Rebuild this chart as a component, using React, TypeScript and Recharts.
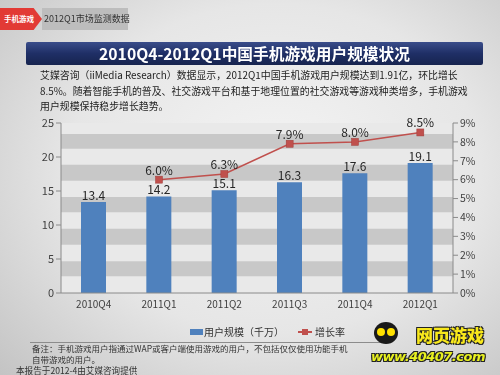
import React from "react";
import {
  ComposedChart,
  Bar,
  Line,
  XAxis,
  YAxis,
  Legend,
  LabelList,
  ReferenceArea,
} from "recharts";

const categories = ["2010Q4", "2011Q1", "2011Q2", "2011Q3", "2011Q4", "2012Q1"];
const userScale = [13.4, 14.2, 15.1, 16.3, 17.6, 19.1];
const growthRate: (number | null)[] = [null, 6.0, 6.3, 7.9, 8.0, 8.5];
const leftTicks = [0, 5, 10, 15, 20, 25];
const rightTicks = [0, 1, 2, 3, 4, 5, 6, 7, 8, 9];

const bands: [number, number][] = [
  [2.45, 4.66],
  [7.1, 9.46],
  [11.86, 14.1],
  [16.5, 18.87],
  [21.2, 23.4],
];

const data = categories.map((c, i) => ({
  name: c,
  scale: userScale[i],
  rate: growthRate[i],
}));

const FONT = '"Noto Sans CJK SC", "Noto Sans", sans-serif';

const SquareDot = (props: any) => {
  const { cx, cy } = props;
  if (cx == null || cy == null || props.value == null) return null;
  return <rect x={cx - 3.5} y={cy - 3.5} width={7} height={7} fill="#c0504d" stroke="#a03c3a" strokeWidth={0.5} />;
};

const LegendContent = () => (
  <div style={{ display: "flex", alignItems: "center", fontFamily: FONT, fontSize: 10, lineHeight: "12px", color: "#333", whiteSpace: "nowrap" }}>
    <span style={{ display: "inline-block", width: 13, height: 6, background: "#4f81bd", marginRight: 1 }} />
    <span>用户规模（千万）</span>
    <span style={{ display: "inline-block", position: "relative", width: 14, height: 8, marginLeft: 14, marginRight: 3 }}>
      <span style={{ position: "absolute", left: 0, top: 3, width: 14, height: 2, background: "#c0504d" }} />
      <span style={{ position: "absolute", left: 4, top: 1, width: 6, height: 6, background: "#c0504d" }} />
    </span>
    <span>增长率</span>
  </div>
);

export default function App() {
  return (
    <div
      style={{
        position: "fixed",
        left: 0,
        top: 0,
        width: 500,
        height: 375,
        overflow: "hidden",
        fontFamily: FONT,
        background:
          "radial-gradient(ellipse 75% 80% at 55% 45%, #f4f4f4 0%, #e6e6e6 55%, #c4c4c4 100%)",
      }}
    >
      {/* header tag */}
      <div
        style={{
          position: "absolute",
          left: 0,
          top: 8,
          width: 42,
          height: 22,
          background: "#e23a35",
          clipPath: "polygon(0 0, 80% 0, 100% 50%, 80% 100%, 0 100%)",
          color: "#fff",
          fontSize: 7.5,
          fontWeight: 700,
          lineHeight: "22px",
          paddingLeft: 4,
          boxSizing: "border-box",
          whiteSpace: "nowrap",
        }}
      >
        手机游戏
      </div>
      <div
        style={{
          position: "absolute",
          left: 42,
          top: 8,
          width: 86,
          height: 22,
          background: "#bdbdbd",
          color: "#333",
          fontSize: 9,
          lineHeight: "22px",
          paddingLeft: 2,
          boxSizing: "border-box",
          whiteSpace: "nowrap",
        }}
      >
        2012Q1市场监测数据
      </div>

      {/* title bar */}
      <div
        style={{
          position: "absolute",
          left: 26,
          top: 42,
          width: 457,
          height: 23,
          background: "linear-gradient(180deg, #3a4d8a 0%, #1f2f66 50%, #17244f 100%)",
          borderRadius: 2,
          color: "#fff",
          fontSize: 15.7,
          fontWeight: 700,
          lineHeight: "23px",
          textAlign: "center",
          whiteSpace: "nowrap",
        }}
      >
        2010Q4-2012Q1中国手机游戏用户规模状况
      </div>

      {/* paragraph */}
      <div
        style={{
          position: "absolute",
          left: 40,
          top: 68,
          width: 440,
          fontSize: 9.9,
          lineHeight: "15.5px",
          color: "#222",
          whiteSpace: "nowrap",
        }}
      >
        <div>艾媒咨询（iiMedia Research）数据显示，2012Q1中国手机游戏用户规模达到1.91亿，环比增长</div>
        <div>8.5%。随着智能手机的普及、社交游戏平台和基于地理位置的社交游戏等游戏种类增多，手机游戏</div>
        <div>用户规模保持稳步增长趋势。</div>
      </div>

      <div style={{ position: "absolute", left: 0, top: 0 }}>
        <ComposedChart
          width={500}
          height={375}
          data={data}
          margin={{ top: 123, right: 7, bottom: 52, left: 21 }}
          barCategoryGap={20}
        >
          <XAxis
            dataKey="name"
            xAxisId="x"
            height={30}
            tickLine={false}
            axisLine={{ stroke: "#8a8a8a" }}
            tick={{ fill: "#404040", fontSize: 10, fontFamily: FONT }}
            interval={0}
          />
          <YAxis
            yAxisId="left"
            orientation="left"
            width={40}
            domain={[0, 25]}
            ticks={leftTicks}
            interval={0}
            tickSize={5}
            tickLine={{ stroke: "#8a8a8a" }}
            axisLine={{ stroke: "#8a8a8a" }}
            tick={{ fill: "#404040", fontSize: 11, fontFamily: FONT }}
          />
          <YAxis
            yAxisId="right"
            orientation="right"
            width={40}
            domain={[0, 9]}
            ticks={rightTicks}
            interval={0}
            tickSize={5}
            tickFormatter={(v: number) => `${v}%`}
            tickLine={{ stroke: "#8a8a8a" }}
            axisLine={{ stroke: "#8a8a8a" }}
            tick={{ fill: "#404040", fontSize: 10.5, fontFamily: FONT }}
          />
          <ReferenceArea
            xAxisId="x"
            yAxisId="left"
            y1={0}
            y2={25}
            fill="#e9e9e9"
            fillOpacity={1}
            stroke="none"
          />
          {bands.map(([a, b], i) => (
            <ReferenceArea
              key={i}
              xAxisId="x"
              yAxisId="left"
              y1={a}
              y2={b}
              fill="#c8c8c8"
              fillOpacity={1}
              stroke="none"
            />
          ))}
          <Bar
            xAxisId="x"
            yAxisId="left"
            dataKey="scale"
            name="用户规模（千万）"
            fill="#4f81bd"
            barSize={25}
            isAnimationActive={false}
          >
            <LabelList
              dataKey="scale"
              position="top"
              offset={2}
              formatter={(v: any) => Number(v).toFixed(1)}
              style={{ fill: "#262626", fontSize: 12, fontFamily: FONT }}
            />
          </Bar>
          <Line
            xAxisId="x"
            yAxisId="right"
            dataKey="rate"
            name="增长率"
            stroke="#c0504d"
            strokeWidth={1.5}
            dot={<SquareDot />}
            activeDot={false}
            connectNulls={false}
            isAnimationActive={false}
          >
            <LabelList
              dataKey="rate"
              position="top"
              offset={5}
              formatter={(v: any) => (v == null ? "" : `${Number(v).toFixed(1)}%`)}
              style={{ fill: "#262626", fontSize: 12, fontFamily: FONT }}
            />
          </Line>
          <Legend
            verticalAlign="middle"
            layout="horizontal"
            content={<LegendContent />}
            wrapperStyle={{ top: 326, left: 190, width: 190 }}
          />
        </ComposedChart>
      </div>

      {/* separator line */}
      <div style={{ position: "absolute", left: 30, top: 342, width: 352, height: 1, background: "#8c8c8c" }} />

      {/* notes */}
      <div style={{ position: "absolute", left: 32, top: 343, fontSize: 8.5, lineHeight: "11px", color: "#333", whiteSpace: "nowrap" }}>
        <div>备注：手机游戏用户指通过WAP或客户端使用游戏的用户，不包括仅仅使用功能手机</div>
        <div>自带游戏的用户。</div>
      </div>
      <div style={{ position: "absolute", left: 16, top: 365, fontSize: 8.6, lineHeight: "10px", color: "#333", whiteSpace: "nowrap" }}>
        本报告于2012-4由艾媒咨询提供
      </div>

      {/* watermark logo */}
      <div style={{ position: "absolute", left: 374, top: 322, width: 24, height: 22, borderRadius: "50%", background: "#1a1a1a" }}>
        <div style={{ position: "absolute", left: 3, top: 6, width: 8, height: 8, borderRadius: "50%", background: "#ffe100" }} />
        <div style={{ position: "absolute", left: 13, top: 6, width: 8, height: 8, borderRadius: "50%", background: "#ffe100" }} />
      </div>
      <div
        style={{
          position: "absolute",
          left: 416,
          top: 325,
          fontSize: 17,
          lineHeight: "20px",
          fontWeight: 900,
          color: "#f8e81c",
          whiteSpace: "nowrap",
          textShadow: "1px 1px 0 #222, -1px -1px 0 #222, 1px -1px 0 #222, -1px 1px 0 #222",
        }}
      >
        网页游戏
      </div>
      <div
        style={{
          position: "absolute",
          left: 371,
          top: 349,
          fontSize: 13,
          lineHeight: "16px",
          fontWeight: 900,
          fontStyle: "italic",
          color: "#e8f020",
          whiteSpace: "nowrap",
          letterSpacing: -0.5,
          fontFamily: '"DejaVu Sans", sans-serif',
          textShadow: "1px 1px 0 #222, -1px -1px 0 #222, 1px -1px 0 #222, -1px 1px 0 #222",
        }}
      >
        www.40407.com
      </div>
    </div>
  );
}
